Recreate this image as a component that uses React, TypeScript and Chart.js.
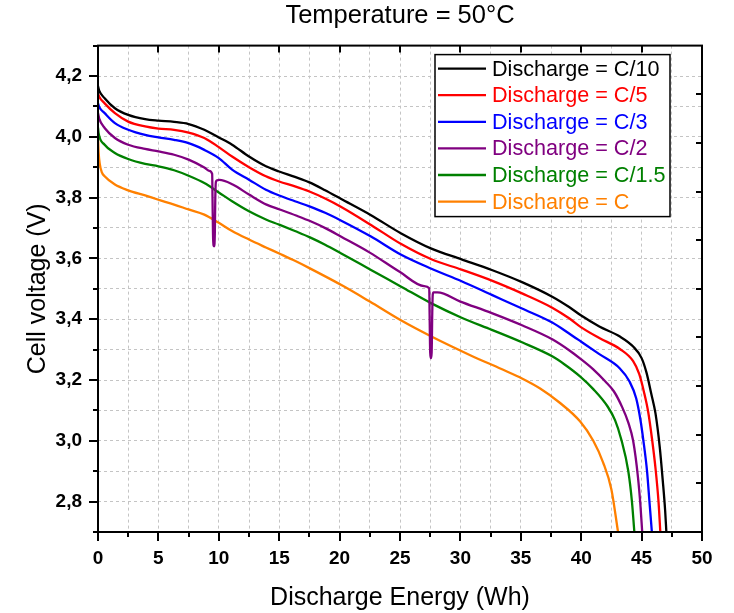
import React, { useEffect, useRef } from 'react';
import { Chart, registerables } from 'chart.js';

Chart.register(...registerables);

const FONT = '"Liberation Sans", Arial, Helvetica, sans-serif';

const chartTitle = 'Temperature = 50°C';
const xAxisTitle = 'Discharge Energy (Wh)';
const yAxisTitle = 'Cell voltage (V)';

const seriesLabels = [
  'Discharge = C/10',
  'Discharge = C/5',
  'Discharge = C/3',
  'Discharge = C/2',
  'Discharge = C/1.5',
  'Discharge = C',
];
const seriesColors = ['#000000', '#ff0000', '#0000ff', '#800080', '#008000', '#ff8000'];

// C/10
const c10Energy = [0, 0.1, 0.55, 1.4, 2.5, 3.9, 5, 6.3, 7.5, 8.8, 10, 11.1, 12.5, 13.9, 15, 16.3, 17.5, 18.8, 20.1, 22.6, 25.1, 27.6, 30.1, 32.6, 35.1, 37.6, 39.0, 40.0, 41.5, 43.2, 44.3, 45.0, 45.4, 45.8, 46.15, 46.5, 46.75, 46.95, 47.05];
const c10Voltage = [4.167, 4.152, 4.127, 4.094, 4.072, 4.058, 4.053, 4.049, 4.042, 4.023, 3.998, 3.974, 3.935, 3.903, 3.886, 3.868, 3.85, 3.824, 3.796, 3.742, 3.682, 3.632, 3.597, 3.562, 3.522, 3.474, 3.44, 3.412, 3.376, 3.343, 3.31, 3.272, 3.225, 3.155, 3.09, 2.98, 2.87, 2.77, 2.7];

// C/5
const c5Energy = [0, 0.1, 0.55, 1.4, 2.5, 3.9, 5, 6.3, 7.5, 8.8, 10, 11.1, 12.5, 13.9, 15, 16.3, 17.5, 18.8, 20.1, 22.6, 25.1, 27.6, 30.1, 32.6, 35.1, 37.6, 39.0, 40.0, 41.5, 43.2, 44.3, 44.8, 45.2, 45.55, 45.85, 46.15, 46.4, 46.55];
const c5Voltage = [4.143, 4.132, 4.11, 4.078, 4.05, 4.034, 4.027, 4.023, 4.014, 3.996, 3.966, 3.935, 3.9, 3.87, 3.853, 3.837, 3.82, 3.797, 3.77, 3.71, 3.647, 3.597, 3.563, 3.527, 3.485, 3.438, 3.403, 3.373, 3.338, 3.302, 3.262, 3.22, 3.16, 3.094, 3.01, 2.91, 2.8, 2.7];

// C/3
const c3Energy = [0, 0.1, 0.55, 1.4, 2.5, 3.9, 5, 6.3, 7.5, 8.8, 10, 11.1, 12.5, 13.9, 15, 16.3, 17.5, 18.8, 20.1, 22.6, 25.1, 27.6, 30.1, 32.6, 35.1, 37.6, 39.0, 40.0, 41.5, 43.2, 44.0, 44.55, 44.9, 45.15, 45.45, 45.65, 45.85];
const c3Voltage = [4.11, 4.098, 4.078, 4.045, 4.023, 4.006, 3.998, 3.99, 3.979, 3.957, 3.93, 3.892, 3.859, 3.826, 3.807, 3.788, 3.771, 3.75, 3.725, 3.672, 3.612, 3.566, 3.525, 3.48, 3.435, 3.389, 3.353, 3.326, 3.285, 3.238, 3.195, 3.14, 3.07, 3.0, 2.9, 2.8, 2.7];

// C/2 (with two rest interruptions)
const c2Energy = [0, 0.1, 0.55, 1.4, 2.5, 3.9, 5, 6.3, 7.5, 8.8, 9.2, 9.45, 9.48, 9.52, 9.57, 9.62, 9.67, 9.71, 9.76, 9.85, 10.05, 11.15, 12.5, 13.95, 15.05, 16.4, 17.6, 18.9, 20.1, 22.5, 25.0, 27.0, 27.42, 27.45, 27.5, 27.56, 27.62, 27.67, 27.71, 27.78, 28.1, 30.0, 32.6, 35.1, 37.6, 39.0, 40.0, 41.0, 42.0, 42.7, 43.4, 43.9, 44.3, 44.7, 44.9, 45.05];
const c2Voltage = [4.078, 4.06, 4.029, 3.996, 3.974, 3.96, 3.952, 3.941, 3.925, 3.899, 3.888, 3.878, 3.8, 3.68, 3.642, 3.64, 3.68, 3.8, 3.852, 3.857, 3.858, 3.843, 3.81, 3.777, 3.761, 3.741, 3.722, 3.698, 3.672, 3.619, 3.555, 3.509, 3.502, 3.42, 3.29, 3.272, 3.29, 3.42, 3.48, 3.488, 3.488, 3.458, 3.42, 3.38, 3.334, 3.298, 3.268, 3.235, 3.195, 3.163, 3.11, 3.06, 3.0, 2.88, 2.79, 2.7];

// C/1.5
const c15Energy = [0, 0.05, 0.55, 1.4, 2.5, 3.9, 5, 6.3, 7.5, 8.8, 10, 11.1, 12.5, 13.9, 15, 16.3, 17.5, 18.8, 20.1, 22.6, 25.1, 27.6, 30.1, 32.6, 35.1, 37.6, 38.6, 39.9, 41.0, 42.2, 42.8, 43.3, 43.9, 44.2, 44.4];
const c15Voltage = [4.03, 4.012, 3.974, 3.947, 3.927, 3.911, 3.903, 3.89, 3.872, 3.848, 3.817, 3.788, 3.755, 3.728, 3.711, 3.69, 3.67, 3.645, 3.617, 3.562, 3.507, 3.452, 3.405, 3.365, 3.324, 3.278, 3.252, 3.212, 3.17, 3.112, 3.068, 3.007, 2.9, 2.8, 2.7];

// C
const c1Energy = [0, 0.05, 0.15, 0.3, 0.55, 1.4, 2.5, 3.9, 5, 6.3, 7.5, 8.8, 10, 11.1, 12.5, 13.9, 15, 16.3, 17.5, 20.3, 22.5, 25.0, 27.6, 30.9, 33.4, 35.1, 36.6, 38.2, 39.9, 41.0, 41.8, 42.5, 43.05];
const c1Voltage = [4.0, 3.95, 3.91, 3.885, 3.87, 3.843, 3.824, 3.807, 3.793, 3.777, 3.761, 3.744, 3.717, 3.69, 3.662, 3.636, 3.616, 3.592, 3.568, 3.509, 3.458, 3.398, 3.343, 3.28, 3.236, 3.205, 3.172, 3.126, 3.064, 3.0, 2.93, 2.84, 2.7];

const seriesEnergy = [c10Energy, c5Energy, c3Energy, c2Energy, c15Energy, c1Energy];
const seriesVoltage = [c10Voltage, c5Voltage, c3Voltage, c2Voltage, c15Voltage, c1Voltage];

const xMin = 0;
const xMax = 50;
const xStep = 2.5;
const yMin = 2.7;
const yMax = 4.3;
const yStep = 0.1;

const isMajorX = (v: number) => Math.abs(v / 5 - Math.round(v / 5)) < 1e-6;
const isMajorY = (v: number) => Math.round(v * 10) % 2 === 0;

const framePlugin = {
  id: 'frameTicks',
  afterDraw(chart: any) {
    const { ctx, chartArea: a, scales } = chart;
    const xs = scales.x;
    const ys = scales.y;
    ctx.save();
    ctx.strokeStyle = '#000';
    ctx.lineWidth = 2;
    ctx.lineCap = 'butt';
    ctx.beginPath();
    xs.ticks.forEach((t: any) => {
      const px = Math.round(xs.getPixelForValue(t.value));
      const major = isMajorX(t.value);
      ctx.moveTo(px, a.bottom);
      ctx.lineTo(px, a.bottom + (major ? 9 : 5));
      if (major) {
        ctx.moveTo(px, a.top);
        ctx.lineTo(px, a.top + 7);
      }
    });
    ys.ticks.forEach((t: any) => {
      const py = Math.round(ys.getPixelForValue(t.value));
      const major = isMajorY(t.value);
      ctx.moveTo(a.left, py);
      ctx.lineTo(a.left - (major ? 9 : 5), py);
    });
    const h = a.bottom - a.top;
    for (let i = 1; i < 10; i++) {
      const py = Math.round(a.top + (h * i) / 10);
      ctx.moveTo(a.right, py);
      ctx.lineTo(a.right - 6, py);
    }
    ctx.stroke();
    ctx.strokeRect(a.left, a.top, a.right - a.left, a.bottom - a.top);
    ctx.restore();
  },
};

const legendPlugin = {
  id: 'boxLegend',
  afterDraw(chart: any) {
    const { ctx, chartArea: a } = chart;
    const width = 235;
    const height = 162;
    const right = a.right - 32;
    const left = right - width;
    const top = a.top + 9;
    const rowH = 26.6;
    ctx.save();
    ctx.fillStyle = '#ffffff';
    ctx.fillRect(left, top, width, height);
    ctx.strokeStyle = '#000';
    ctx.lineWidth = 1.5;
    ctx.strokeRect(left, top, width, height);
    ctx.font = `21.6px ${FONT}`;
    ctx.textBaseline = 'middle';
    ctx.textAlign = 'left';
    chart.data.datasets.forEach((ds: any, i: number) => {
      const cy = top + 15 + i * rowH;
      ctx.strokeStyle = ds.borderColor;
      ctx.lineWidth = 2.3;
      ctx.beginPath();
      ctx.moveTo(left + 3, cy - 1);
      ctx.lineTo(left + 51, cy - 1);
      ctx.stroke();
      ctx.fillStyle = ds.borderColor;
      ctx.fillText(ds.label, left + 57, cy);
    });
    ctx.restore();
  },
};

export default function App() {
  const ref = useRef<HTMLCanvasElement>(null);

  useEffect(() => {
    const canvas = ref.current;
    if (!canvas) return;
    Chart.defaults.font.family = FONT;
    Chart.defaults.color = '#000';

    const datasets = seriesLabels.map((label, i) => ({
      label,
      data: seriesEnergy[i].map((x, j) => ({ x, y: seriesVoltage[i][j] })),
      borderColor: seriesColors[i],
      backgroundColor: seriesColors[i],
      borderWidth: 2.3,
      pointRadius: 0,
      fill: false,
      cubicInterpolationMode: 'monotone' as const,
    }));

    const chart = new Chart(canvas, {
      type: 'line',
      data: { datasets },
      plugins: [framePlugin, legendPlugin],
      options: {
        responsive: false,
        animation: false,
        devicePixelRatio: 1,
        layout: { padding: { left: 0, right: 32, top: 0, bottom: 0 } },
        plugins: {
          legend: { display: false },
          tooltip: { enabled: false },
          title: {
            display: true,
            fullSize: false,
            text: chartTitle,
            color: '#000',
            font: { size: 25.5, weight: 'normal', family: FONT },
            padding: { top: 1, bottom: 14 },
          },
        },
        scales: {
          x: {
            type: 'linear',
            min: xMin,
            max: xMax,
            afterFit: (s: any) => {
              s.height = 81;
            },
            ticks: {
              stepSize: xStep,
              autoSkip: false,
              maxRotation: 0,
              padding: 15,
              color: '#000',
              font: { size: 19, weight: 'bold', family: FONT },
              callback: (v: any) => (isMajorX(Number(v)) ? String(Math.round(Number(v))) : ''),
            },
            grid: { color: '#c4c4c4', lineWidth: 1, tickLength: 0, drawTicks: false },
            border: { display: false, dash: [3, 3] },
            title: {
              display: true,
              text: xAxisTitle,
              color: '#000',
              font: { size: 25, weight: 'normal', family: FONT },
              padding: { top: 0, bottom: 0 },
            },
          },
          y: {
            type: 'linear',
            min: yMin,
            max: yMax,
            afterFit: (s: any) => {
              s.width = 98;
            },
            ticks: {
              stepSize: yStep,
              autoSkip: false,
              padding: 16,
              color: '#000',
              font: { size: 19, weight: 'bold', family: FONT },
              callback: (v: any) => {
                const n = Math.round(Number(v) * 10);
                return n % 2 === 0 ? (n / 10).toFixed(1).replace('.', ',') : '';
              },
            },
            grid: { color: '#c4c4c4', lineWidth: 1, tickLength: 0, drawTicks: false },
            border: { display: false, dash: [3, 3] },
            title: {
              display: true,
              text: yAxisTitle,
              color: '#000',
              font: { size: 25, weight: 'normal', family: FONT },
              padding: { top: 23, bottom: 0 },
            },
          },
        },
      },
    });
    return () => chart.destroy();
  }, []);

  return (
    <div style={{ position: 'fixed', left: 0, top: 0, width: 734, height: 613, background: '#fff' }}>
      <canvas ref={ref} width={734} height={613} style={{ display: 'block', width: 734, height: 613 }} />
    </div>
  );
}
